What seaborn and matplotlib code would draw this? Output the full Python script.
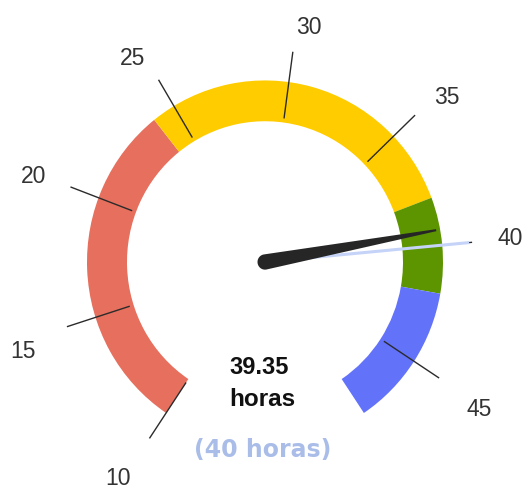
import matplotlib
matplotlib.use("Agg")
import matplotlib.pyplot as plt
import numpy as np
import seaborn as sns

# gauge data
scale_min = 10
scale_max = 48
tick_values = [10, 15, 20, 25, 30, 35, 40, 45]
tick_labels = ["10", "15", "20", "25", "30", "35", "40", "45"]
band_starts = [10, 24, 38, 42]
band_ends = [24, 38, 42, 48]
band_colors = ["#e66f5d", "#ffcc00", "#5c9500", "#6272f9"]
needle_value = 39.35
target_value = 40
value_text = "39.35"
unit_text = "horas"
target_text = "(40 horas)"

# layout (pixels)
W, H = 527, 490
CX, CY = 265, 262
R_MAX = 270
KV = 1.02            # the original gauge is a touch taller than wide
START_DEG = 236.25
SWEEP_DEG = 292.5
R_IN, R_OUT = 138, 178
TICK_IN, TICK_OUT = 142, 208
LABEL_R_TOP, LABEL_R_BOTTOM = 234, 241
NEEDLE_LEN = 174


def val_to_theta(v):
    frac = (np.asarray(v, dtype=float) - scale_min) / (scale_max - scale_min)
    return np.deg2rad(START_DEG - frac * SWEEP_DEG)


sns.set_theme(style="white")

fig = plt.figure(figsize=(W / 100, H / 100), dpi=100)
ax = fig.add_axes(
    [(CX - R_MAX) / W, (H - CY - R_MAX * KV) / H, 2 * R_MAX / W, 2 * R_MAX * KV / H],
    projection="polar",
)
ax.set_aspect("auto")
ax.set_ylim(0, R_MAX)
ax.set_axis_off()

# coloured bands
th_lo = val_to_theta(band_starts)
th_hi = val_to_theta(band_ends)
ax.bar(th_hi, R_OUT - R_IN, width=th_lo - th_hi, bottom=R_IN, align="edge",
       color=band_colors, edgecolor="none", linewidth=0, zorder=1)

# ticks and labels (label box sits just outside a circle, like the original)
for v, lab in zip(tick_values, tick_labels):
    th = float(val_to_theta(v))
    ax.plot([th, th], [TICK_IN, TICK_OUT], color="#2b2b2b", lw=1.0,
            solid_capstyle="butt", zorder=2)
    c, s = np.cos(th), np.sin(th)
    r = LABEL_R_TOP if s > 0 else LABEL_R_BOTTOM
    dx = r * c
    dy = r * s + 9 * np.sign(s) - 5 - 8.3
    ax.annotate(lab, xy=(0, 0), xytext=(dx, dy), textcoords="offset pixels",
                ha="left" if c > 0 else "right", va="baseline",
                fontsize=16.5, color="#333333", family="Liberation Sans")

# target marker
th_t = val_to_theta(target_value)
ax.plot([th_t, th_t], [0, 205], color="#c4d3f7", lw=2.2,
        solid_capstyle="butt", zorder=3)

# needle: round tail at the pivot, tapering to a thin tip
th_n = float(val_to_theta(needle_value))
tail = np.linspace(np.pi / 2, 3 * np.pi / 2, 24)
nx = np.concatenate([[NEEDLE_LEN], 7.5 * np.cos(tail), [NEEDLE_LEN]])
ny = np.concatenate([[1.0], 7.5 * np.sin(tail), [-1.0]])
px = nx * np.cos(th_n) - ny * np.sin(th_n)
py = nx * np.sin(th_n) + ny * np.cos(th_n)
ax.fill(np.arctan2(py, px), np.hypot(px, py), color="#262626", lw=0, zorder=4)

# centre texts
fig.text(259 / W, 1 - 367 / H, value_text, ha="center", va="center",
         fontsize=17, fontweight="bold", color="#111111", family="Liberation Sans")
fig.text(262 / W, 1 - 399 / H, unit_text, ha="center", va="center",
         fontsize=17.5, fontweight="bold", color="#111111", family="Liberation Sans")
fig.text(263 / W, 1 - 450 / H, target_text, ha="center", va="center",
         fontsize=17, fontweight="bold", color="#a9bde8", family="DejaVu Sans")

fig.savefig("out.png", dpi=100)
